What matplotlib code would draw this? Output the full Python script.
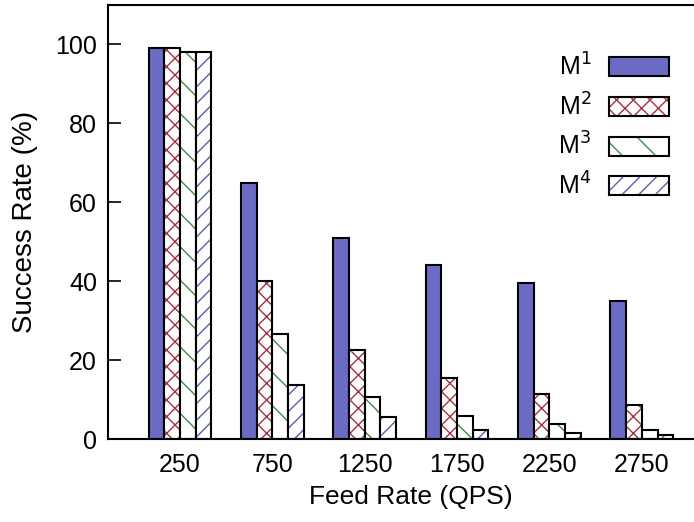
import numpy as np
import matplotlib
matplotlib.use('Agg')
import matplotlib.pyplot as plt
from matplotlib.patches import Patch
from matplotlib.legend_handler import HandlerTuple

plt.rcParams['font.family'] = ['Liberation Sans', 'DejaVu Sans']
plt.rcParams['hatch.linewidth'] = 1.0

rates = ['250', '750', '1250', '1750', '2250', '2750']
m1 = [99.2, 65.0, 51.0, 44.0, 39.6, 35.0]
m2 = [99.0, 40.0, 22.6, 15.5, 11.3, 8.7]
m3 = [98.0, 26.6, 10.6, 5.8, 3.8, 2.4]
m4 = [98.0, 13.6, 5.5, 2.2, 1.6, 0.9]
labels = ['M$^1$', 'M$^2$', 'M$^3$', 'M$^4$']

series = [m1, m2, m3, m4]
fills = ['#6b6bc6', 'white', 'white', 'white']
hatches = [None, 'xx', '\\', '//']
hcolors = ['#6b6bc6', '#a3323f', '#3f8a46', '#5b5fb0']

fig = plt.figure(figsize=(6.94, 5.22), dpi=100)
ax = fig.add_axes([0.1556, 0.159, 0.873, 0.8314])

x = np.arange(len(rates))
w = 0.17
handles = []
for i, vals in enumerate(series):
    pos = x + (i - 1.5) * w
    ax.bar(pos, vals, w, color=fills[i], edgecolor=hcolors[i], hatch=hatches[i], linewidth=0)
    ax.bar(pos, vals, w, color='none', edgecolor='black', linewidth=1.5)
    h1 = Patch(facecolor=fills[i], edgecolor=hcolors[i], hatch=hatches[i], linewidth=0)
    h2 = Patch(facecolor='none', edgecolor='black', linewidth=1.5)
    handles.append((h1, h2))

ax.set_xlim(-0.78, 5.78)
ax.set_ylim(0, 110)
ax.set_xticks(x)
ax.set_xticklabels(rates)
ax.set_yticks([0, 20, 40, 60, 80, 100])
ax.tick_params(axis='x', length=0, pad=10, labelsize=18)
ax.tick_params(axis='y', direction='in', length=9, width=1.2, pad=8, labelsize=18)
for s in ax.spines.values():
    s.set_linewidth(1.5)

ax.set_xlabel('Feed Rate (QPS)', fontsize=19, labelpad=6)
ax.set_ylabel('Success Rate (%)', fontsize=20, labelpad=12)

ax.legend(handles, labels, handler_map={tuple: HandlerTuple(ndivide=1)},
          loc='upper right', bbox_to_anchor=(0.942, 0.912), frameon=False,
          markerfirst=False, fontsize=18, handlelength=2.4, handleheight=0.8,
          labelspacing=0.5, handletextpad=0.7, borderaxespad=0)

fig.savefig('out.png', dpi=100)
